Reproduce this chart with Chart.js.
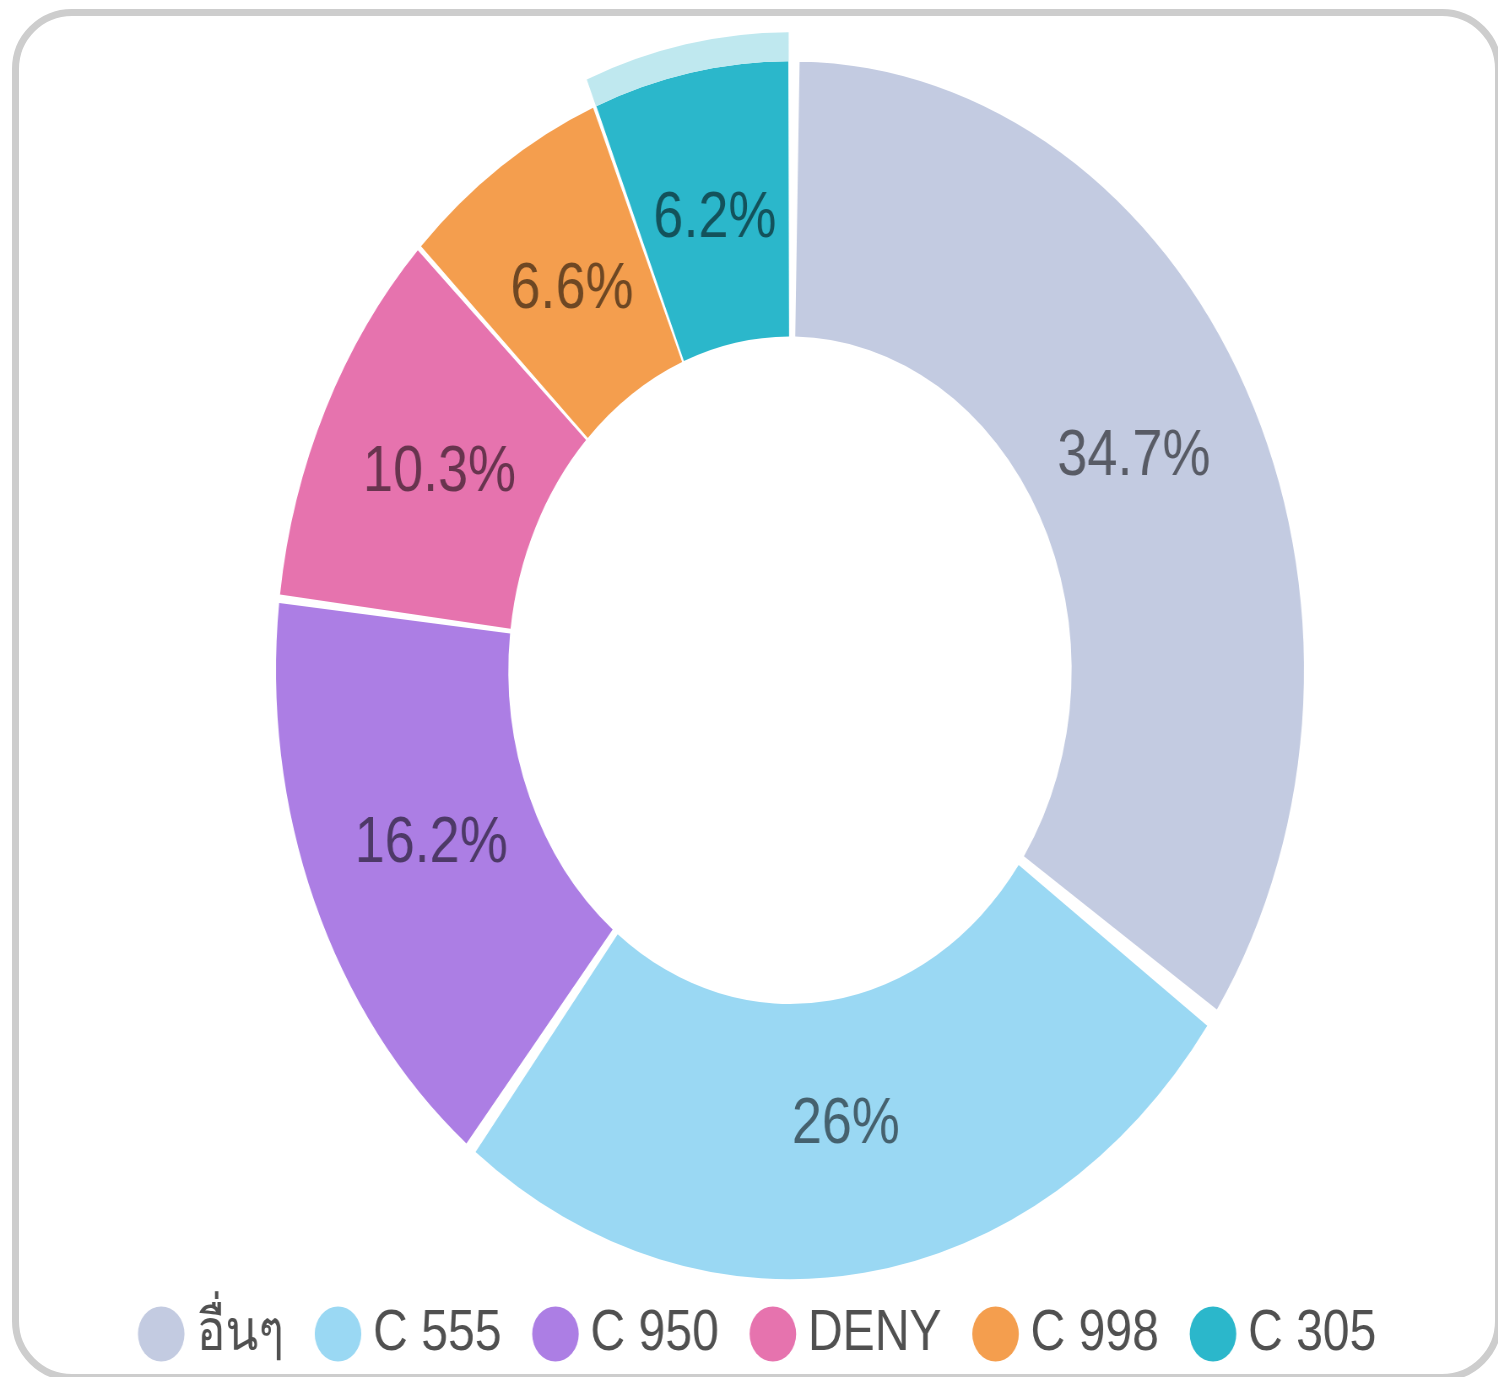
<!DOCTYPE html>
<html>
<head>
<meta charset="utf-8">
<script src="https://cdn.jsdelivr.net/npm/chart.js@4.4.1/dist/chart.umd.min.js"></script>
<style>
  html, body { margin: 0; padding: 0; background: #fff; overflow: hidden; }
  body { width: 1498px; height: 1377px; position: relative; }
  #card {
    position: absolute; left: 12px; top: 9px; width: 1490px; height: 1372px;
    box-sizing: border-box; border: 7px solid #cdcdcd; border-radius: 60px; background: #fff;
  }
  /* the source picture is squeezed sideways, so the chart is drawn wide and narrowed */
  #wrap {
    position: absolute; left: 0; top: 0; width: 1775px; height: 1377px;
    transform: scaleX(0.844); transform-origin: 0 0;
  }
</style>
</head>
<body>
<div id="card"></div>
<div id="wrap"><canvas id="chart" width="1775" height="1377"></canvas></div>
<script>
const labels = ['อื่นๆ', 'C 555', 'C 950', 'DENY', 'C 998', 'C 305']
const shares = [34.7, 26, 16.2, 10.3, 6.6, 6.2]
const sliceColors = ['#c3cbe1', '#9ad8f3', '#ac7ee4', '#e673ae', '#f49e4e', '#2bb7cb']
const highlighted = 5 // slice shown with the light hover band
const bandColor = '#bfe8ef'

const fontFamily = '"Liberation Sans", Arial, Helvetica, sans-serif'
const labelColor = 'rgba(0, 0, 0, 0.55)'

// draws the percentage inside every slice, a little nearer the centre than mid-ring
const sliceLabels = {
  id: 'sliceLabels',
  afterDatasetsDraw(chart) {
    const ctx = chart.ctx
    const meta = chart.getDatasetMeta(1)
    ctx.save()
    ctx.font = '64px ' + fontFamily
    ctx.fillStyle = labelColor
    ctx.textAlign = 'center'
    ctx.textBaseline = 'middle'
    meta.data.forEach((arc, i) => {
      const p = arc.tooltipPosition()
      const x = arc.x + (p.x - arc.x) * 0.975
      const y = arc.y + (p.y - arc.y) * 0.975
      ctx.fillText(shares[i] + '%', x, y)
    })
    ctx.restore()
  }
}

const ctx = document.getElementById('chart').getContext('2d')
new Chart(ctx, {
  type: 'doughnut',
  data: {
    labels: labels,
    datasets: [
      {
        // outer band, only visible on the highlighted slice
        data: shares,
        backgroundColor: sliceColors.map((c, i) => (i === highlighted ? bandColor : 'rgba(0,0,0,0)')),
        borderWidth: 0,
        weight: 29
      },
      {
        data: shares,
        backgroundColor: sliceColors,
        borderWidth: 0,
        weight: 275
      }
    ]
  },
  options: {
    responsive: false,
    animation: false,
    events: [],
    radius: 630,
    cutout: '51.7%',
    spacing: 16,
    hoverOffset: 0,
    layout: {
      padding: { top: 86, bottom: 4.5, left: 127, right: 30 }
    },
    plugins: {
      tooltip: { enabled: false },
      legend: {
        position: 'bottom',
        align: 'start',
        labels: {
          usePointStyle: true,
          pointStyle: 'circle',
          boxWidth: 26,
          boxHeight: 39,
          padding: 51,
          color: '#505050',
          font: { size: 57, family: fontFamily },
          generateLabels(chart) {
            const items = Chart.overrides.doughnut.plugins.legend.labels.generateLabels(chart)
            items.forEach((item, i) => {
              item.fillStyle = sliceColors[i]
              item.strokeStyle = sliceColors[i]
              item.lineWidth = 0
            })
            return items
          }
        }
      }
    }
  },
  plugins: [sliceLabels]
})
</script>
</body>
</html>
